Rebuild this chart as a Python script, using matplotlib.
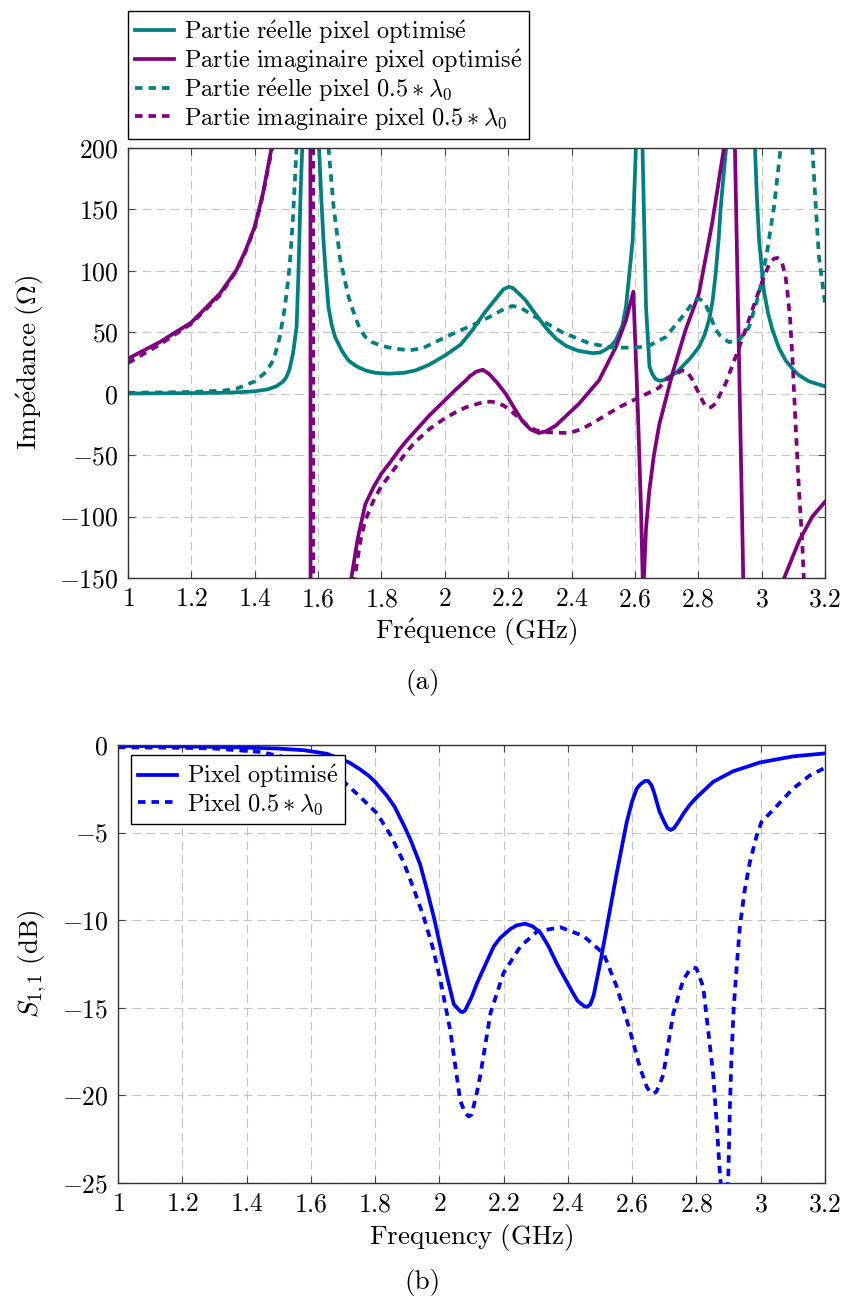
"""
Impédance d'entrée et S11 : pixel optimisé vs pixel 0.5*lambda0
"""

import numpy as np
import matplotlib
matplotlib.use("Agg")
import matplotlib.pyplot as plt
from matplotlib.ticker import FuncFormatter, MultipleLocator

plt.rcParams["font.family"] = "serif"
plt.rcParams["font.serif"] = ["cmr10", "DejaVu Serif"]
plt.rcParams["mathtext.fontset"] = "cm"
plt.rcParams["axes.formatter.use_mathtext"] = True
plt.rcParams["font.size"] = 18.5

# ---- (a) Impédance ----
# partie réelle, pixel optimisé
f_re_opt = [1.0, 1.1, 1.2, 1.3, 1.35, 1.4, 1.44, 1.468, 1.49, 1.5, 1.51, 1.521,
            1.532, 1.538, 1.545, 1.55, 1.56, 1.575, 1.59, 1.603, 1.61, 1.617,
            1.625, 1.633, 1.643, 1.654, 1.675, 1.696, 1.72, 1.749, 1.78, 1.823,
            1.87, 1.908, 1.95, 2.0, 2.05, 2.088, 2.12, 2.141, 2.16, 2.185,
            2.202, 2.215, 2.24, 2.255, 2.28, 2.318, 2.35, 2.382, 2.42, 2.466,
            2.49, 2.508, 2.525, 2.54, 2.56, 2.572, 2.593, 2.603, 2.612, 2.624,
            2.635, 2.646, 2.655, 2.665, 2.677, 2.69, 2.707, 2.73, 2.749, 2.775,
            2.802, 2.82, 2.834, 2.845, 2.855, 2.864, 2.871, 2.88, 2.888, 2.93,
            2.979, 2.985, 2.992, 3.007, 3.02, 3.034, 3.055, 3.076, 3.1, 3.118,
            3.15, 3.2]
z_re_opt = [0.2, 0.3, 0.5, 0.8, 1.2, 2, 3.5, 6, 10, 13.6, 20, 33,
            54, 98, 166, 200, 350, 400, 300, 200, 160, 125,
            95, 70, 56, 46, 35, 27, 22.5, 19, 17, 16.3,
            17, 19, 23.5, 31, 40, 52, 64, 71, 77, 85,
            87, 86, 80, 76, 67, 54, 45, 39, 35, 33,
            33.5, 36, 39, 43.5, 55, 71, 125, 200, 300, 200,
            71, 22, 16, 12, 10.5, 11, 13.6, 17, 22, 29,
            38, 48, 60, 75, 98, 125, 152, 178, 200, 350,
            200, 160, 125, 84, 66, 52, 37, 27, 19.5, 15,
            10, 6]

# partie imaginaire, pixel optimisé
f_im_opt = [1.0, 1.1, 1.2, 1.29, 1.342, 1.37, 1.4, 1.426, 1.453, 1.5, 1.55,
            1.574, 1.578, 1.65, 1.705, 1.725, 1.749, 1.775, 1.8, 1.83, 1.855,
            1.88, 1.908, 1.95, 2.0, 2.035, 2.067, 2.08, 2.1, 2.12, 2.14,
            2.165, 2.192, 2.22, 2.244, 2.27, 2.297, 2.32, 2.35, 2.424, 2.487,
            2.54, 2.572, 2.595, 2.609, 2.619, 2.626, 2.635, 2.645, 2.66, 2.677,
            2.718, 2.76, 2.802, 2.844, 2.881, 2.9, 2.912, 2.945, 3.0, 3.071,
            3.118, 3.16, 3.2]
z_im_opt = [28.5, 42, 58, 81.5, 100.5, 116, 136, 163, 200, 300, 600,
            1500, -1500, -300, -150, -118, -90, -76, -65, -55, -46,
            -38, -30, -18, -5.4, 3.5, 11, 14.5, 18, 19.5, 16,
            9, 0, -12, -22, -29, -32, -30.5, -26, -8, 11,
            38, 60, 83, -11, -92, -165, -110, -80, -50, -25,
            16, 52, 81.5, 139, 200, 260, 250, -190, -300, -150,
            -120, -100, -88]

# partie réelle, pixel 0.5*lambda0
f_re_half = [1.0, 1.1, 1.2, 1.3, 1.342, 1.4, 1.437, 1.46, 1.479, 1.495, 1.51,
             1.521, 1.532, 1.55, 1.6, 1.633, 1.649, 1.67, 1.696, 1.715, 1.733,
             1.75, 1.77, 1.8, 1.834, 1.887, 1.93, 1.961, 2.035, 2.098, 2.141,
             2.18, 2.213, 2.24, 2.276, 2.371, 2.456, 2.529, 2.603, 2.644, 2.697,
             2.749, 2.78, 2.795, 2.805, 2.823, 2.84, 2.855, 2.87, 2.897, 2.928,
             2.96, 2.992, 3.018, 3.039, 3.06, 3.11, 3.16, 3.171, 3.181, 3.2]
z_re_half = [0.8, 1.0, 1.4, 2.5, 4, 10, 18, 28, 46, 70, 103,
             144, 200, 400, 400, 200, 152, 109, 79, 64, 52,
             46, 42, 39, 37, 35.3, 37, 41, 50, 57, 62.5,
             68, 71.5, 70, 64, 50, 41, 37.5, 37.5, 39, 46,
             62.5, 73, 77, 77, 73, 62, 52, 47, 42, 43.5,
             54, 81.5, 117, 152, 200, 400, 200, 152, 111, 74]

# partie imaginaire, pixel 0.5*lambda0
f_im_half = [1.0, 1.1, 1.2, 1.29, 1.342, 1.37, 1.4, 1.426, 1.455, 1.5, 1.55,
             1.583, 1.586, 1.65, 1.715, 1.735, 1.749, 1.775, 1.8, 1.83, 1.855,
             1.88, 1.908, 1.95, 2.0, 2.035, 2.067, 2.1, 2.125, 2.15, 2.185,
             2.213, 2.24, 2.265, 2.29, 2.33, 2.392, 2.43, 2.466, 2.55, 2.614,
             2.677, 2.697, 2.749, 2.765, 2.78, 2.795, 2.81, 2.82, 2.83, 2.84,
             2.855, 2.87, 2.886, 2.918, 2.949, 2.981, 3.007, 3.025, 3.039,
             3.05, 3.065, 3.075, 3.081, 3.09, 3.097, 3.107, 3.118, 3.128,
             3.133, 3.15]
z_im_half = [25, 40, 57, 80, 100, 115, 135, 162, 200, 300, 600,
             1500, -1500, -300, -150, -118, -103, -87, -75, -65, -56,
             -47, -39, -29, -20, -15, -11, -8.5, -6.5, -6.5, -9.5,
             -15, -21, -27, -30, -31.5, -32, -29, -24, -11, -3,
             5, 11, 19, 18, 12, 4, -4, -9, -11.5, -11,
             -8, 0, 8, 30, 52, 76, 95, 106, 110,
             110.5, 106, 96, 84, 60, 30, -24, -79, -120,
             -150, -250]

# ---- (b) S11 ----
f_s_opt = [1.0, 1.1, 1.2, 1.288, 1.4, 1.495, 1.58, 1.65, 1.72, 1.754, 1.78,
           1.8, 1.837, 1.86, 1.89, 1.91, 1.94, 1.962, 1.985, 2.003, 2.025,
           2.045, 2.055, 2.065, 2.072, 2.08, 2.1, 2.117, 2.169, 2.19, 2.221,
           2.24, 2.267, 2.29, 2.314, 2.34, 2.366, 2.39, 2.417, 2.43, 2.45,
           2.46, 2.47, 2.48, 2.5, 2.521, 2.552, 2.583, 2.6, 2.614, 2.625,
           2.64, 2.65, 2.66, 2.668, 2.685, 2.70, 2.71, 2.72, 2.73, 2.745,
           2.76, 2.78, 2.8, 2.852, 2.914, 2.997, 3.1, 3.2]
s_opt = [-0.05, -0.06, -0.08, -0.1, -0.15, -0.2, -0.3, -0.5, -1.0, -1.4, -1.75,
         -2.1, -2.9, -3.5, -4.6, -5.4, -6.8, -8.3, -10.0, -11.5, -13.3,
         -14.8, -15.0, -15.2, -15.25, -15.15, -14.4, -13.6, -11.5, -11.0, -10.5,
         -10.3, -10.2, -10.35, -10.7, -11.5, -12.5, -13.3, -14.2, -14.6, -14.9,
         -14.95, -14.8, -14.3, -12.5, -10.4, -7.3, -4.4, -3.2, -2.5, -2.25,
         -2.05, -2.05, -2.3, -2.7, -3.8, -4.4, -4.75, -4.85, -4.75, -4.35,
         -3.9, -3.4, -3.0, -2.1, -1.5, -1.0, -0.65, -0.48]

f_s_half = [1.0, 1.2, 1.3, 1.444, 1.52, 1.6, 1.65, 1.703, 1.75, 1.806, 1.85,
            1.889, 1.92, 1.951, 1.98, 2.003, 2.034, 2.065, 2.08, 2.091, 2.1,
            2.115, 2.128, 2.159, 2.2, 2.252, 2.304, 2.376, 2.448, 2.511, 2.552,
            2.593, 2.624, 2.645, 2.655, 2.666, 2.675, 2.685, 2.697, 2.728,
            2.759, 2.78, 2.79, 2.8, 2.821, 2.852, 2.863, 2.873, 2.886, 2.899,
            2.904, 2.909, 2.916, 2.925, 2.935, 2.95, 2.966, 2.987, 3.002,
            3.049, 3.1, 3.152, 3.2]
s_half = [-0.13, -0.16, -0.2, -0.4, -0.7, -1.1, -1.5, -2.1, -2.9, -3.9, -5.2,
          -6.7, -8.2, -9.8, -11.6, -13.4, -16.3, -20.3, -21.0, -21.2, -21.1,
          -20.0, -18.8, -15.3, -13.0, -11.5, -10.65, -10.4, -10.9, -11.9, -13.8,
          -16.3, -18.4, -19.5, -19.8, -19.9, -19.8, -19.4, -18.8, -15.3,
          -13.4, -12.8, -12.7, -12.75, -13.8, -18.8, -21.6, -24.5, -27, -24.7,
          -20.7, -17.8, -15, -12.7, -10.4, -8.3, -6.7, -5.2, -4.4,
          -3.5, -2.5, -1.75, -1.3]

TEAL = "#008080"
PURPLE = "#800080"
LW = 2.7
DASH = (0, (2.0, 1.6))
fmt = FuncFormatter(lambda v, p: f"${v:g}$")


def style_axes(ax):
    ax.grid(True, color="#c4c4c4", linestyle=(0, (8, 4.5)), linewidth=0.8)
    ax.set_axisbelow(True)
    ax.tick_params(direction="in", top=True, right=True, length=5,
                   color="#444444", pad=7, labelsize=18.5)
    for s in ax.spines.values():
        s.set_color("#333333")
        s.set_linewidth(1.0)
    ax.xaxis.set_major_formatter(fmt)
    ax.yaxis.set_major_formatter(fmt)


fig = plt.figure(figsize=(8.45, 12.98), dpi=100)

# (a)
ax1 = fig.add_axes([128 / 845, 1 - 578 / 1298, 697 / 845, 430 / 1298])
ax1.plot(f_re_opt, z_re_opt, color=TEAL, lw=LW,
         label=r"$\mathrm{Partie\ r\acute{e}elle\ pixel\ optimis\acute{e}}$")
ax1.plot(f_im_opt, z_im_opt, color=PURPLE, lw=LW,
         label=r"$\mathrm{Partie\ imaginaire\ pixel\ optimis\acute{e}}$")
ax1.plot(f_re_half, z_re_half, color=TEAL, lw=LW, linestyle=DASH,
         label=r"$\mathrm{Partie\ r\acute{e}elle\ pixel\ 0.5} \ast \lambda_0$")
ax1.plot(f_im_half, z_im_half, color=PURPLE, lw=LW, linestyle=DASH,
         label=r"$\mathrm{Partie\ imaginaire\ pixel\ 0.5} \ast \lambda_0$")
ax1.set_xlim(1, 3.2)
ax1.set_ylim(-150, 200)
ax1.xaxis.set_major_locator(MultipleLocator(0.2))
ax1.yaxis.set_major_locator(MultipleLocator(50))
style_axes(ax1)
ax1.set_xlabel(r"$\mathrm{Fr\acute{e}quence\ (GHz)}$", fontsize=19.5, labelpad=4)
ax1.set_ylabel(r"$\mathrm{Imp\acute{e}dance\ (\Omega)}$", fontsize=19.5, labelpad=9)
ax1.legend(loc="upper left", bbox_to_anchor=(128 / 845, 1 - 11 / 1298),
           bbox_transform=fig.transFigure, fancybox=False, edgecolor="black",
           framealpha=1, fontsize=17.5, handlelength=1.6, labelspacing=0.05,
           borderpad=0.3, handletextpad=0.4, borderaxespad=0)

# (b)
ax2 = fig.add_axes([118 / 845, 1 - 1183 / 1298, 707 / 845, 438 / 1298])
ax2.plot(f_s_opt, s_opt, color="blue", lw=LW,
         label=r"$\mathrm{Pixel\ optimis\acute{e}}$")
ax2.plot(f_s_half, s_half, color="blue", lw=LW, linestyle=DASH,
         label=r"$\mathrm{Pixel\ 0.5} \ast \lambda_0$")
ax2.set_xlim(1, 3.2)
ax2.set_ylim(-25, 0)
ax2.xaxis.set_major_locator(MultipleLocator(0.2))
ax2.yaxis.set_major_locator(MultipleLocator(5))
style_axes(ax2)
ax2.set_xlabel(r"$\mathrm{Frequency\ (GHz)}$", fontsize=19.5, labelpad=4)
ax2.set_ylabel(r"$S_{1,1}\ \mathrm{(dB)}$", fontsize=19.5, labelpad=9)
ax2.legend(loc="upper left", bbox_to_anchor=(0.018, 0.977), fancybox=False,
           edgecolor="black", framealpha=1, fontsize=17.5, handlelength=1.6,
           labelspacing=0.05, borderpad=0.3, handletextpad=0.4,
           borderaxespad=0)

fig.text(0.5, 1 - 683 / 1298, "(a)", ha="center", va="center", fontsize=19.5)
fig.text(0.5, 1 - 1283 / 1298, "(b)", ha="center", va="center", fontsize=19.5)

plt.savefig("out.png", dpi=100)
